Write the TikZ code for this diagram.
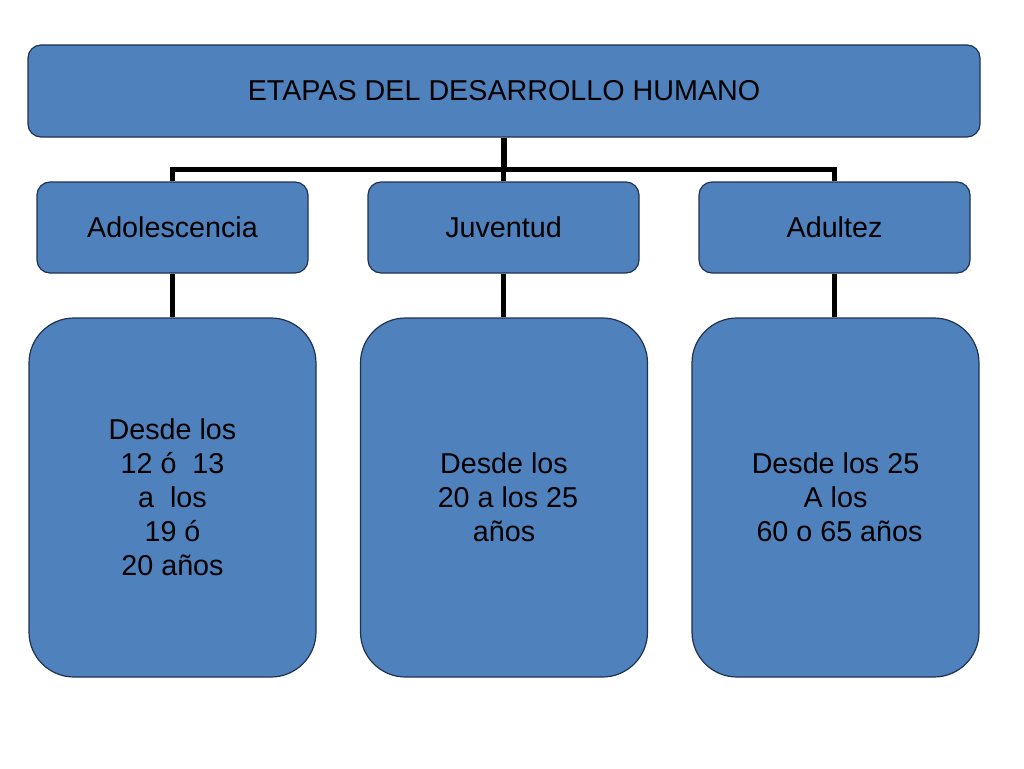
\documentclass[tikz,border=0pt]{standalone}
\usepackage{fontspec}
\setmainfont{Liberation Sans}
\usetikzlibrary{backgrounds}
\definecolor{boxfill}{HTML}{4F81BD}
\definecolor{boxline}{HTML}{1F3350}
\begin{document}
\begin{tikzpicture}[x=1pt,y=-1pt,
  box/.style={draw=boxline, line width=1.2pt, fill=boxfill, inner sep=0pt,
    align=center, font=\fontsize{28.7}{34}\selectfont, text=black},
  smallbox/.style={box, rounded corners=13pt},
  bigbox/.style={box, rounded corners=45pt, minimum width=287pt, minimum height=359pt},
  link/.style={line width=5.5pt, black}]
\useasboundingbox (0,0) rectangle (1024,768);
\node[smallbox, minimum width=952pt, minimum height=92pt] (top) at (504,91) {ETAPAS DEL DESARROLLO HUMANO};
\node[smallbox, minimum width=271pt, minimum height=91pt] (ado) at (172.5,227.5) {Adolescencia};
\node[smallbox, minimum width=271pt, minimum height=91pt] (juv) at (503.5,227.5) {Juventud};
\node[smallbox, minimum width=271pt, minimum height=91pt] (adu) at (834.5,227.5) {Adultez};
\node[bigbox] (d1) at (172.5,497.5) {Desde los\\12 ó~ 13\\a~ los\\19 ó\\20 años};
\node[bigbox] (d2) at (504,497.5) {Desde los\ \\\ 20 a los 25\\años};
\node[bigbox] (d3) at (835.5,497.5) {Desde los 25\\A los\\\ 60 o 65 años};
\coordinate (bar) at (504,169.5);
\begin{pgfonlayer}{background}
\draw[link] (top.south) -- (bar);
\draw[link] (ado.north) -- (ado.north |- bar) -- (adu.north |- bar) -- (adu.north);
\draw[link] (juv.north) -- (juv.north |- bar);
\draw[link] (ado.south) -- (ado.south |- d1.north);
\draw[link] (juv.south) -- (juv.south |- d2.north);
\draw[link] (adu.south) -- (adu.south |- d3.north);
\end{pgfonlayer}
\end{tikzpicture}
\end{document}
